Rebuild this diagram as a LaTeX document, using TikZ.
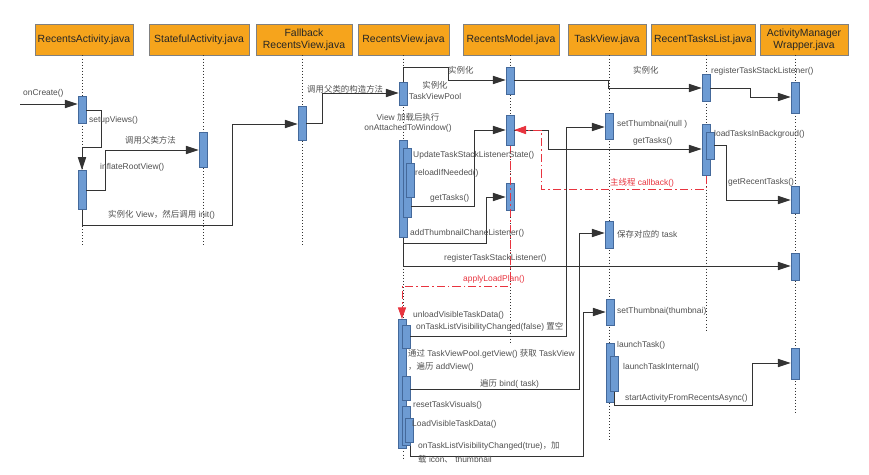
\documentclass[tikz,border=0pt]{standalone}
\usepackage{fontspec}
\setmainfont{Liberation Sans}
\newfontfamily\cjk{Noto Sans CJK SC}
\usetikzlibrary{arrows.meta,positioning,calc}
\definecolor{hdrfill}{HTML}{F6A41C}
\definecolor{hdrline}{HTML}{808080}
\definecolor{barfill}{HTML}{6D9BD3}
\definecolor{barline}{HTML}{44699B}
\definecolor{msgline}{HTML}{333333}
\definecolor{lbltext}{HTML}{505050}
\definecolor{redline}{HTML}{E8343F}
\newcommand{\zh}[1]{{\cjk #1}}
\newcommand{\actbar}[4]{\node[act, minimum height={(#4-#3)*0.03cm}, anchor=north] (#1) at (#2,#3) {};}

\begin{document}
\begin{tikzpicture}
[x=0.03cm, y=-0.03cm,
H/.style={draw=hdrline, fill=hdrfill, line width=0.8pt, minimum height=0.93cm, inner sep=0pt,
  align=center, text=black!85, font=\fontsize{8.9}{10.2}\selectfont},
act/.style={draw=barline, fill=barfill, line width=0.5pt, minimum width=0.24cm, inner sep=0pt},
life/.style={black!80, line width=0.6pt, dotted},
msg/.style={draw=msgline, line width=0.8pt, -{Triangle[length=11pt,width=7pt]}},
ret/.style={draw=redline, line width=0.8pt, dash pattern=on 7pt off 2.5pt on 1.5pt off 2.5pt,
  -{Triangle[length=10pt,width=7pt]}},
lbl/.style={inner sep=0pt, anchor=west, text=lbltext, font=\fontsize{7.2}{8.6}\selectfont},
rlbl/.style={lbl, text=redline}]
\useasboundingbox (0,0) rectangle (869,474);
%%
%%%%%%%%%%%%%%%%%%
% headers
%%%%%%%%%%%%%%%%%%
\node[H, minimum width=2.94cm] (ra) at (84,39.5) {RecentsActivity.java};
\node[H, minimum width=3.00cm] (sa) at (199,39.5) {StatefulActivity.java};
\node[H, minimum width=2.88cm] (fb) at (304,39.5) {Fallback\\RecentsView.java};
\node[H, minimum width=2.73cm] (rv) at (403.5,39.5) {RecentsView.java};
\node[H, minimum width=2.88cm] (rm) at (511,39.5) {RecentsModel.java};
\node[H, minimum width=2.34cm] (tv) at (607,39.5) {TaskView.java};
\node[H, minimum width=3.12cm] (rt) at (703,39.5) {RecentTasksList.java};
\node[H, minimum width=2.64cm] (am) at (804,39.5) {ActivityManager\\Wrapper.java};
%%
%% lifelines
\draw[life] (ra.south -| 82,0) -- (82,247);
\draw[life] (sa.south -| 203,0) -- (203,247);
\draw[life] (fb.south -| 302,0) -- (302,247);
\draw[life] (rv.south -| 403,0) -- (403,460);
\draw[life] (rm.south -| 510,0) -- (510,343);
\draw[life] (tv.south -| 609,0) -- (609,440);
\draw[life] (rt.south -| 706,0) -- (706,332);
\draw[life] (am.south -| 795,0) -- (795,413);
%%
%%%%%%%%%%%%%%%%%%
% activation bars
%%%%%%%%%%%%%%%%%%
\actbar{raA}{82}{96}{123}
\actbar{raB}{82}{170}{209}
\actbar{saA}{203}{132}{167}
\actbar{fbA}{302}{106}{140}
%% RecentsView
\actbar{rvA}{403}{82}{105}
\actbar{rvB}{403}{140}{237}
\actbar{rvB1}{407}{148}{217}
\actbar{rvB2}{410}{163}{197}
\actbar{rvC}{402}{319}{448}
\actbar{rvC1}{406}{325}{348}
\actbar{rvC2}{406}{376}{400}
\actbar{rvC3}{406}{406}{445}
\actbar{rvC4}{409}{418}{442}
%% RecentsModel
\actbar{rmA}{510}{67}{94}
\actbar{rmB}{510}{115}{145}
\actbar{rmC}{510}{183}{210}
%% TaskView
\actbar{tvA}{609}{113}{139}
\actbar{tvB}{609}{221}{248}
\actbar{tvC}{610}{299}{325}
\actbar{tvD}{610}{343}{402}
\actbar{tvD1}{614}{356}{391}
%% RecentTasksList
\actbar{rtA}{706}{74}{101}
\actbar{rtB}{706}{124}{175}
\actbar{rtB1}{710}{132}{159}
%% ActivityManagerWrapper
\actbar{amA}{795}{82}{113}
\actbar{amB}{795}{186}{213}
\actbar{amC}{795}{253}{280}
\actbar{amD}{795}{348}{379}
%%
%%%%%%%%%%%%%%%%%%
% messages
%%%%%%%%%%%%%%%%%%
\coordinate (start) at (20,104);
\draw[msg] (start) -- (raA.west |- start);
\draw[msg] (raA.east |- 0,110) -| (101,147) -| (raB.north);
\draw[msg] (raB.east |- 0,190) -| (105,150) -- (saA.west |- 0,150);
\draw[msg] (raB.south) |- (232,225) |- (fbA.west |- 0,124);
\draw[msg] (fbA.east |- 0,123) -| (322,93) -- (rvA.west |- 0,93);
\draw[msg] (rvA.north) |- (448,67) |- (rmA.west |- 0,80);
\draw[msg] (rmA.east |- 0,80) -| (608,88) -- (rtA.west |- 0,88);
\draw[msg] (rtA.east |- 0,88) -| (750,97) -- (amA.west |- 0,97);
%% onAttachedToWindow
\draw[msg] (rvB1.east |- 0,206) -| (474,130) -- (rmB.west |- 0,130);
\draw[msg] (rvB.south) |- (486,243) |- (rmC.west |- 0,197);
\draw[msg] (rvB.south) |- (amC.west |- 0,266);
\draw[msg] (rmB.east |- 0,130) -| (548,149) -- (rtB.west |- 0,149);
\draw[msg] (rtB1.east |- 0,145) -| (726,200) -- (amB.west |- 0,200);
%% applyLoadPlan
\draw[msg] (rvC1.east |- 0,336) -| (566,127) -- (tvA.west |- 0,127);
\draw[msg] (rvC2.east |- 0,389) -| (579,233) -- (tvB.west |- 0,233);
\draw[msg] (rvC3.south east) |- (583,456) |- (tvC.west |- 0,312);
\draw[msg] (tvD1.south) |- (752,405) |- (amD.west |- 0,363);
%%
%% callbacks
\draw[ret] (rtB.south) |- (541,189) |- (rmB.east |- 0,130);
\draw[ret] (rmB.south) |- (402,286) -- (rvC.north);
%%
%%%%%%%%%%%%%%%%%%
% labels
%%%%%%%%%%%%%%%%%%
\node[lbl] (lCreate) at (23,93) {onCreate()};
\node[lbl] (lSetup) at (89,120) {setupViews()};
\node[lbl] (lSuper) at (125,140) {\zh{调用父类方法}};
\node[lbl] (lInflate) at (100,167) {inflateRootView()};
\node[lbl] (lInit) at (108,215) {\zh{实例化} View\zh{，然后调用} init()};
\node[lbl] (lCtor) at (307,89) {\zh{调用父类的构造方法}};
\node[lbl, anchor=center, align=center] (lPool) at (435,90.5) {\zh{实例化}\\TaskViewPool};
\node[lbl] (lNewRm) at (448,70) {\zh{实例化}};
\node[lbl] (lNewRt) at (633,70) {\zh{实例化}};
\node[lbl] (lReg) at (711,71) {registerTaskStackListener()};
\node[lbl, anchor=center, align=center] (lAttach) at (408,123) {View \zh{加载后执行}\\onAttachedToWindow()};
\node[lbl] (lUpdate) at (413,155) {UpdateTaskStackListenerState()};
\node[lbl] (lReload) at (415,173) {reloadIfNeeded()};
\node[lbl] (lGet) at (430,198) {getTasks()};
\node[lbl] (lThumbL) at (410,233) {addThumbnailChaneListener()};
\node[lbl] (lRegRv) at (444,258) {registerTaskStackListener()};
\node[rlbl] (lApply) at (463,279) {applyLoadPlan()};
\node[rlbl] (lMain) at (610,183) {\zh{主线程} callback()};
\node[lbl] (lGetRt) at (633,141) {getTasks()};
\node[lbl] (lLoad) at (714,134) {loadTasksInBackgroud()};
\node[lbl] (lRecent) at (728,182) {getRecentTasks()};
\node[lbl] (lNull) at (617,124) {setThumbnai(null )};
\node[lbl] (lSave) at (617,234) {\zh{保存对应的} task};
\node[lbl] (lUnload) at (413,315) {unloadVisibleTaskData()};
\node[lbl] (lFalse) at (416,327) {onTaskListVisibilityChanged(false) \zh{置空}};
\node[lbl] (lPoolGet) at (408,354) {\zh{通过} TaskViewPool.getView() \zh{获取} TaskView};
\node[lbl] (lAdd) at (408,367) {\zh{，遍历} addView()};
\node[lbl] (lBind) at (480,384) {\zh{遍历} bind( task)};
\node[lbl] (lReset) at (413,405) {resetTaskVisuals()};
\node[lbl] (lLoadV) at (412,424) {LoadVisibleTaskData()};
\node[lbl] (lTrue) at (418,446) {onTaskListVisibilityChanged(true)\zh{，加}};
\node[lbl] (lTrue2) at (418,459) {\zh{载} icon\zh{、} thumbnail};
\node[lbl] (lThumb) at (617,311) {setThumbnai(thumbnai)};
\node[lbl] (lLaunch) at (617,345) {launchTask()};
\node[lbl] (lLaunchI) at (623,367) {launchTaskInternal()};
\node[lbl] (lStart) at (625,398) {startActivityFromRecentsAsync()};
%%
\end{tikzpicture}
\end{document}
